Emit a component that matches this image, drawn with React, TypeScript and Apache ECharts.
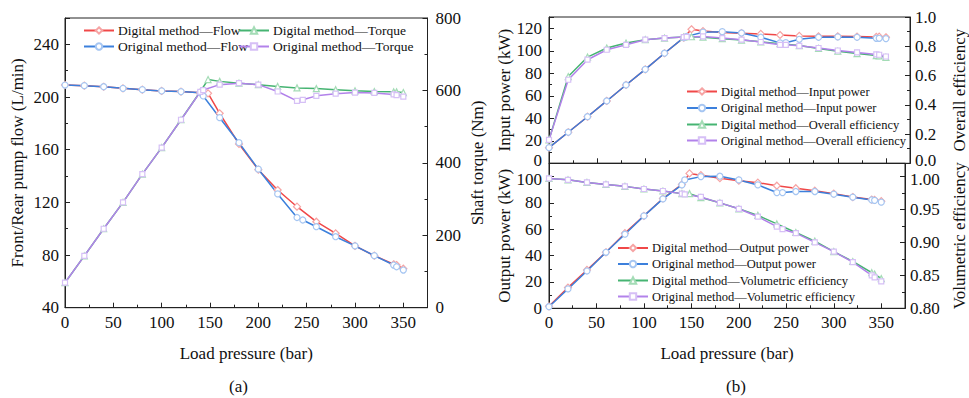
import React, { useEffect, useRef } from "react";
import * as echarts from "echarts";

// ---- Data ----
const xDigital = [0, 20, 40, 60, 80, 100, 120, 140, 148, 160, 180, 200, 220, 240, 260, 280, 300, 320, 340, 343, 350];
const xOriginal = [0, 20, 40, 60, 80, 100, 120, 140, 143, 160, 180, 200, 220, 240, 246, 260, 280, 300, 320, 340, 343, 350];

// (a) flow (L/min) and torque (Nm)
const flowDigital = [209.1, 208.6, 207.8, 206.6, 205.6, 204.6, 204.1, 203.3, 202.8, 187.6, 164.3, 144.8, 129.4, 116.7, 105.3, 96.5, 86.9, 79.5, 73.0, 72.4, 69.6];
const flowOriginal = [209.1, 208.6, 207.8, 206.6, 205.6, 204.6, 204.1, 203.3, 200.8, 184.3, 165.3, 145.2, 126.4, 108.5, 106.6, 101.5, 93.9, 86.9, 79.5, 72.4, 71.1, 68.6];
const torqueDigital = [69, 143, 218, 291, 369, 442, 519, 597, 630, 625, 620, 616, 611, 607, 605, 602, 599, 597, 596, 596, 594];
const torqueOriginal = [69, 143, 218, 291, 369, 442, 519, 596, 601, 616, 620, 616, 597, 571, 574, 585, 591, 594, 593, 589, 587, 583];

// (b) top: input power (kW) and overall efficiency
const inputDigital = [13.9, 27.6, 41.4, 55.4, 69.6, 83.5, 97.8, 111.6, 119.1, 117.5, 116.2, 115.6, 115.0, 114.0, 113.2, 112.8, 112.8, 112.6, 112.3, 112.5, 112.0];
const inputOriginal = [13.9, 27.6, 41.4, 55.4, 69.6, 83.5, 97.8, 111.6, 112.8, 116.5, 117.0, 115.8, 112.0, 107.0, 107.2, 110.2, 112.0, 112.3, 112.0, 111.1, 111.1, 110.8];
const overallEffDigital = [0.16, 0.593, 0.726, 0.788, 0.822, 0.845, 0.856, 0.863, 0.865, 0.862, 0.852, 0.842, 0.83, 0.818, 0.805, 0.785, 0.766, 0.75, 0.736, 0.734, 0.724];
const overallEffOriginal = [0.16, 0.571, 0.708, 0.776, 0.81, 0.845, 0.856, 0.863, 0.864, 0.867, 0.856, 0.845, 0.829, 0.81, 0.81, 0.803, 0.788, 0.771, 0.758, 0.744, 0.742, 0.73];

// (b) bottom: output power (kW) and volumetric efficiency
const outputDigital = [1.5, 15.7, 29.1, 42.5, 57.0, 70.1, 83.3, 94.0, 102.3, 101.0, 98.7, 96.8, 95.3, 93.0, 91.1, 89.2, 87.0, 84.4, 82.5, 82.3, 81.3];
const outputOriginal = [1.2, 14.7, 28.3, 42.5, 56.2, 70.1, 83.0, 93.6, 97.4, 99.9, 100.2, 97.4, 93.6, 87.8, 87.8, 88.6, 88.6, 86.6, 84.3, 82.2, 81.9, 80.5];
const volEffDigital = [0.997, 0.995, 0.991, 0.988, 0.985, 0.981, 0.978, 0.974, 0.974, 0.968, 0.96, 0.951, 0.941, 0.928, 0.915, 0.902, 0.886, 0.871, 0.854, 0.852, 0.845];
const volEffOriginal = [0.997, 0.995, 0.991, 0.988, 0.985, 0.981, 0.978, 0.974, 0.973, 0.969, 0.96, 0.951, 0.939, 0.924, 0.92, 0.914, 0.9, 0.886, 0.87, 0.85, 0.847, 0.841];

const xTitle = "Load pressure (bar)";

const FONT = "'Liberation Serif', 'Times New Roman', serif";
const RED = "#f04848";
const BLUE = "#3c80dc";
const GREEN = "#46b472";
const PURPLE = "#b282ea";
const RED_M = "#f6a4a4";
const BLUE_M = "#a6c6f2";
const GREEN_M = "#a4dcb6";
const PURPLE_M = "#d6c0f6";
const AXIS = "#222";
const FS = 17;

const pairs = (xs: number[], ys: number[]) => xs.map((x, i) => [x, ys[i]]);

function lineSeries(name: string, xs: number[], ys: number[], color: string, mcolor: string, symbol: string, size: number, xi: number, yi: number) {
  return {
    name,
    type: "line",
    xAxisIndex: xi,
    yAxisIndex: yi,
    data: pairs(xs, ys),
    symbol,
    symbolSize: size,
    showAllSymbol: true,
    lineStyle: { color, width: 1.5 },
    itemStyle: { color: "#ffffff", borderColor: mcolor, borderWidth: 1.2 },
    emphasis: { disabled: true },
  };
}

function xAxisCfg(gridIndex: number, showLabels: boolean) {
  return {
    type: "value",
    gridIndex,
    min: 0,
    max: 375,
    interval: 50,
    name: showLabels ? xTitle : "",
    nameLocation: "middle",
    nameGap: 37,
    nameTextStyle: { fontFamily: FONT, fontSize: FS, color: "#111" },
    axisLine: { show: true, lineStyle: { color: AXIS, width: 1 } },
    axisTick: { show: true, inside: true, length: 5, lineStyle: { color: AXIS } },
    minorTick: { show: true, splitNumber: 2, length: 3, lineStyle: { color: AXIS } },
    axisLabel: { show: showLabels, showMaxLabel: false, fontFamily: FONT, fontSize: FS, color: "#111", margin: 6 },
    splitLine: { show: false },
  };
}

const richStyles = {
  up: { fontFamily: FONT, fontSize: FS, color: "#111", padding: [0, 0, 6, 0] },
  down: { fontFamily: FONT, fontSize: FS, color: "#111", padding: [6, 0, 0, 0] },
};

function yAxisCfg(opts: any) {
  const fmt = opts.formatter || ((v: number) => String(v));
  return {
    type: "value",
    gridIndex: opts.grid,
    position: opts.position,
    min: opts.min,
    max: opts.max,
    interval: opts.interval,
    name: opts.name,
    nameLocation: "middle",
    nameRotate: 90,
    nameGap: opts.nameGap,
    nameTextStyle: { fontFamily: FONT, fontSize: FS, color: "#111" },
    axisLine: { show: true, onZero: false, lineStyle: { color: AXIS, width: 1 } },
    axisTick: { show: true, inside: true, length: 5, lineStyle: { color: AXIS } },
    minorTick: { show: true, splitNumber: 2, length: 3, lineStyle: { color: AXIS } },
    axisLabel: {
      fontFamily: FONT,
      fontSize: FS,
      color: "#111",
      margin: opts.margin,
      showMaxLabel: opts.showMax,
      rich: richStyles,
      formatter: (v: number) => {
        const s = fmt(v);
        if (opts.upAt !== undefined && Math.abs(v - opts.upAt) < 1e-9) return `{up|${s}}`;
        if (opts.downAt !== undefined && Math.abs(v - opts.downAt) < 1e-9) return `{down|${s}}`;
        return s;
      },
    },
    splitLine: { show: false },
  };
}

function legendCfg(name: string, left: number, top: number, fs: number) {
  return {
    data: [name],
    left,
    top,
    padding: 0,
    itemWidth: 30,
    itemHeight: 8,
    itemGap: 0,
    selectedMode: false,
    textStyle: { fontFamily: FONT, fontSize: fs, color: "#111", padding: [0, 0, 0, -1] },
  };
}

export default function App() {
  const ref = useRef<HTMLDivElement>(null);

  useEffect(() => {
    if (!ref.current) return;
    const chart = echarts.init(ref.current, undefined, { renderer: "svg" });
    const gridStyle = { show: true, borderColor: AXIS, borderWidth: 1, backgroundColor: "transparent", containLabel: false };
    const option: any = {
      animation: false,
      backgroundColor: "#ffffff",
      textStyle: { fontFamily: FONT },
      grid: [
        { ...gridStyle, left: 65, top: 18, width: 362.5, height: 289.7 },
        { ...gridStyle, left: 549, top: 17, width: 361, height: 146.3 },
        { ...gridStyle, left: 549, top: 163.3, width: 361, height: 145 },
      ],
      xAxis: [xAxisCfg(0, true), xAxisCfg(1, false), xAxisCfg(2, true)],
      yAxis: [
        yAxisCfg({ grid: 0, position: "left", min: 40, max: 260, interval: 40, name: "Front/Rear pump flow (L/min)", nameGap: 39, margin: 6, showMax: false }),
        yAxisCfg({ grid: 0, position: "right", min: 0, max: 800, interval: 200, name: "Shaft torque (Nm)", nameGap: 41, margin: 8, showMax: true }),
        yAxisCfg({ grid: 1, position: "left", min: 0, max: 130, interval: 20, name: "Input power (kW)", nameGap: 36, margin: 7, showMax: false, upAt: 0 }),
        yAxisCfg({ grid: 1, position: "right", min: 0, max: 1.0, interval: 0.2, name: "Overall efficiency", nameGap: 41, margin: 5, showMax: true, upAt: 0, formatter: (v: number) => v.toFixed(1) }),
        yAxisCfg({ grid: 2, position: "left", min: 0, max: 110, interval: 20, name: "Output power (kW)", nameGap: 36, margin: 7, showMax: false, downAt: 100 }),
        yAxisCfg({ grid: 2, position: "right", min: 0.8, max: 1.02, interval: 0.05, name: "Volumetric efficiency", nameGap: 46, margin: 5, showMax: false, downAt: 1.0, formatter: (v: number) => v.toFixed(2) }),
      ],
      legend: [
        legendCfg("Digital method—Flow", 83, 23.5, 13.5),
        legendCfg("Digital method—Torque", 238, 23.5, 13.5),
        legendCfg("Original method—Flow", 83, 39.5, 13.5),
        legendCfg("Original method—Torque", 238, 39.5, 13.5),
        legendCfg("Digital method—Input power", 686, 85, 12.5),
        legendCfg("Original method—Input power", 686, 101.5, 12.5),
        legendCfg("Digital method—Overall efficiency", 686, 118, 12.5),
        legendCfg("Original method—Overall efficiency", 686, 134, 12.5),
        legendCfg("Digital method—Output power", 617, 241.5, 12.5),
        legendCfg("Original method—Output power", 617, 257.5, 12.5),
        legendCfg("Digital method—Volumetric efficiency", 617, 274, 12.5),
        legendCfg("Original method—Volumetric efficiency", 617, 290, 12.5),
      ],
      graphic: [
        { type: "text", left: 229, top: 378, style: { text: "(a)", font: `${FS}px ${FONT}`, fill: "#111" } },
        { type: "text", left: 726, top: 378, style: { text: "(b)", font: `${FS}px ${FONT}`, fill: "#111" } },
      ],
      series: [
        lineSeries("Digital method—Flow", xDigital, flowDigital, RED, RED_M, "diamond", 7, 0, 0),
        lineSeries("Digital method—Torque", xDigital, torqueDigital, GREEN, GREEN_M, "triangle", 6, 0, 1),
        lineSeries("Original method—Flow", xOriginal, flowOriginal, BLUE, BLUE_M, "circle", 6, 0, 0),
        lineSeries("Original method—Torque", xOriginal, torqueOriginal, PURPLE, PURPLE_M, "rect", 5, 0, 1),

        lineSeries("Digital method—Input power", xDigital, inputDigital, RED, RED_M, "diamond", 7, 1, 2),
        lineSeries("Digital method—Overall efficiency", xDigital, overallEffDigital, GREEN, GREEN_M, "triangle", 6, 1, 3),
        lineSeries("Original method—Input power", xOriginal, inputOriginal, BLUE, BLUE_M, "circle", 6, 1, 2),
        lineSeries("Original method—Overall efficiency", xOriginal, overallEffOriginal, PURPLE, PURPLE_M, "rect", 5, 1, 3),

        lineSeries("Digital method—Output power", xDigital, outputDigital, RED, RED_M, "diamond", 7, 2, 4),
        lineSeries("Digital method—Volumetric efficiency", xDigital, volEffDigital, GREEN, GREEN_M, "triangle", 6, 2, 5),
        lineSeries("Original method—Output power", xOriginal, outputOriginal, BLUE, BLUE_M, "circle", 6, 2, 4),
        lineSeries("Original method—Volumetric efficiency", xOriginal, volEffOriginal, PURPLE, PURPLE_M, "rect", 5, 2, 5),
      ],
    };
    chart.setOption(option);
    return () => chart.dispose();
  }, []);

  return (
    <div
      ref={ref}
      style={{ position: "fixed", left: 0, top: 0, width: 969, height: 398, background: "#fff" }}
    />
  );
}
